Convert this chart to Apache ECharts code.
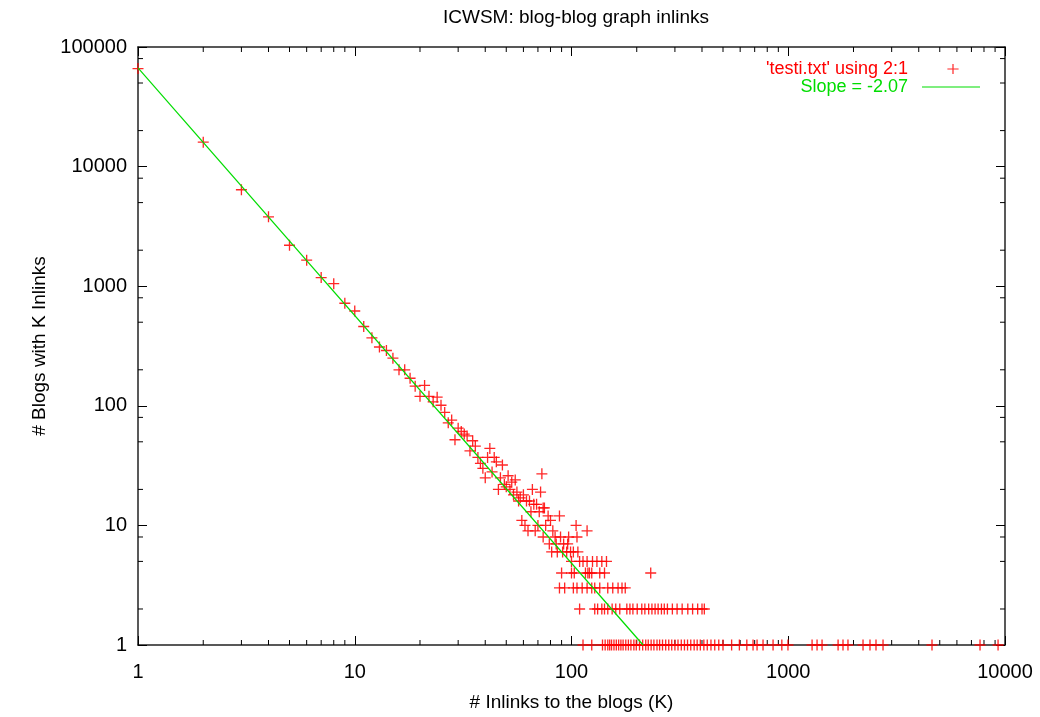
<!DOCTYPE html>
<html>
<head>
<meta charset="utf-8">
<title>ICWSM: blog-blog graph inlinks</title>
<script src="https://cdn.jsdelivr.net/npm/echarts@6/dist/echarts.min.js"></script>
<style>
  html, body { margin: 0; padding: 0; background: #fff; }
  #chart { width: 1040px; height: 717px; }
</style>
</head>
<body>
<div id="chart"></div>
<script>
// axis labels (log decades)
var xTickLabels = ['1', '10', '100', '1000', '10000'];
var yTickLabels = ['1', '10', '100', '1000', '10000', '100000'];
// gnuplot style minor tics
var xMinorTicks = [2,3,4,5,6,7,8,9, 20,30,40,50,60,70,80,90, 200,300,400,500,600,700,800,900, 2000,3000,4000,5000,6000,7000,8000,9000];
var yMinorTicks = [2,5,8, 20,50,80, 200,500,800, 2000,5000,8000, 20000,50000,80000];

// head of the distribution: K inlinks -> # blogs
var headInlinks = [1,2,3,4,5,6,7,8,9,10,11,12,13,14,15,16,17,18,19,20,21,22,23,24,25,26,27,28,29,30,
  31,32,33,34,35,36,37,38,39,40,41,42,43,44,45,46,47,48,49,50,51,52,53,54,55,56,57,58,59,60,
  61,62,64,65,66,67,69,70,71,72,73,74,75,76,78,80,88,105];
var headBlogs = [66000,16000,6400,3800,2200,1650,1180,1050,720,620,460,370,310,290,250,200,200,170,146,120,148,120,108,118,101,88,72,76,52,65,
  61,58,56,42,51,46,37,33,30,25,37,44,28,37,34,20,25,32,22,21,26,20,23,18,24,19,16,17,11,18,
  10,16,16,13,20,15,15,10,13,19,27,14,14,10,12,11,12,10];

// tail: K values for blogs counts 1..9
var nine = [63, 68, 82, 118];
var eight = [74, 84, 89, 97, 106];
var seven = [79, 85, 92, 96];
var six = [81, 86, 91, 95, 99, 102, 107];
var five = [100, 109, 113, 118, 125, 131, 138, 145];
var four = [90, 100, 103, 116, 119, 121, 124, 135, 142, 232];
var three = [88, 93, 102, 106, 112, 118, 124, 128, 135, 147, 155, 164, 171, 177];
var two = [109, 128, 132, 138, 142, 147, 154, 160, 167, 180, 186, 192, 201, 211, 218, 227, 235, 243,
  251, 260, 268, 277, 292, 307, 324, 344, 362, 382, 400, 410];
var one = [113, 124, 139, 143, 147, 150, 153, 157, 161, 165, 169, 173, 178, 183, 188, 194, 199, 206,
  213, 220, 226, 233, 240, 248, 255, 263, 272, 281, 290, 300, 310, 321, 332, 343, 355, 368, 380, 393,
  408, 423, 440, 458, 478, 500, 548, 595, 644, 688, 718, 765, 851, 934, 997, 1288, 1358, 1432, 1698,
  1789, 1886, 2213, 2383, 2540, 2737, 4605, 7670, 9290];

// fitted power law, slope -2.07
var fitInlinks = [1, 214];
var fitBlogs = [67000, 1];

var FONT = 'Liberation Sans';
var RED = '#ff0000';
var GREEN = '#00dd00';
var PLUS = 'path://M4.4,0H5.6V4.4H10V5.6H5.6V10H4.4V5.6H0V4.4H4.4Z';
var PLUS_LEGEND = 'path://M0,0M58,10M25.4,4.4H30.4V0H31.6V4.4H36.6V5.6H31.6V10H30.4V5.6H25.4Z';
var LINE_LEGEND = 'path://M0,0M58,10M0,4.4H58V5.6H0Z';

var points = [];
headInlinks.forEach(function (k, i) { points.push([k, headBlogs[i]]); });
[one, two, three, four, five, six, seven, eight, nine].forEach(function (row, i) {
  row.forEach(function (k) { points.push([k, i + 1]); });
});

function xLabel(v) { return xTickLabels[Math.round(Math.log10(v))]; }
function yLabel(v) { return yTickLabels[Math.round(Math.log10(v))]; }

function xMinor(params, api) {
  var v = api.value(0);
  var b = api.coord([v, 1]), t = api.coord([v, 100000]);
  return { type: 'group', children: [
    { type: 'line', shape: { x1: b[0], y1: b[1], x2: b[0], y2: b[1] - 5 }, style: { stroke: '#000', lineWidth: 1 } },
    { type: 'line', shape: { x1: t[0], y1: t[1], x2: t[0], y2: t[1] + 5 }, style: { stroke: '#000', lineWidth: 1 } }
  ] };
}
function yMinor(params, api) {
  var v = api.value(1);
  var l = api.coord([1, v]), r = api.coord([10000, v]);
  return { type: 'group', children: [
    { type: 'line', shape: { x1: l[0], y1: l[1], x2: l[0] + 5, y2: l[1] }, style: { stroke: '#000', lineWidth: 1 } },
    { type: 'line', shape: { x1: r[0], y1: r[1], x2: r[0] - 5, y2: r[1] }, style: { stroke: '#000', lineWidth: 1 } }
  ] };
}

function logAxis(min, max, split, pos, labels, fmt) {
  return {
    type: 'log', logBase: 10, min: min, max: max, splitNumber: split, position: pos,
    axisLine: { show: true, lineStyle: { color: '#222', width: 1.5 } },
    axisTick: { show: true, inside: true, length: 9, lineStyle: { color: '#000', width: 1 } },
    axisLabel: { show: labels, formatter: fmt, color: '#000', fontFamily: FONT, fontSize: 20 },
    splitLine: { show: false }
  };
}

function legendRow(top, name, icon, color) {
  return {
    orient: 'vertical', right: 55, top: top, align: 'right',
    itemWidth: 58, itemHeight: 10,
    textStyle: { fontFamily: FONT, fontSize: 18, lineHeight: 14, padding: [0, 9, 0, 0] },
    data: [{ name: name, icon: icon, itemStyle: { color: color, borderWidth: 0 }, textStyle: { color: color } }]
  };
}

var xMain = logAxis(1, 10000, 4, 'bottom', true, xLabel);
xMain.axisLabel.margin = 17;
xMain.name = '# Inlinks to the blogs (K)';
xMain.nameLocation = 'middle';
xMain.nameGap = 48;
xMain.nameTextStyle = { color: '#000', fontFamily: FONT, fontSize: 19 };

var yMain = logAxis(1, 100000, 5, 'left', true, yLabel);
yMain.axisLabel.margin = 11;
yMain.name = '# Blogs with K Inlinks';
yMain.nameLocation = 'middle';
yMain.nameGap = 88;
yMain.nameTextStyle = { color: '#000', fontFamily: FONT, fontSize: 19 };

var chart = echarts.init(document.getElementById('chart'), null, { renderer: 'canvas' });
chart.setOption({
  backgroundColor: '#fff',
  animation: false,
  graphic: [{
    type: 'text', x: 576, y: 8,
    style: { text: 'ICWSM: blog-blog graph inlinks', fill: '#000', font: '19px "Liberation Sans"', textAlign: 'center' }
  }],
  grid: { left: 138, right: 35, top: 47, bottom: 69 },
  legend: [
    legendRow(55, "'testi.txt' using 2:1", PLUS_LEGEND, RED),
    legendRow(73, 'Slope = -2.07', LINE_LEGEND, GREEN)
  ],
  xAxis: [xMain, logAxis(1, 10000, 4, 'top', false, xLabel)],
  yAxis: [yMain, logAxis(1, 100000, 5, 'right', false, yLabel)],
  series: [
    {
      name: "'testi.txt' using 2:1", type: 'scatter',
      symbol: PLUS, symbolSize: 11,
      itemStyle: { color: RED, opacity: 0.85 },
      data: points
    },
    {
      name: 'Slope = -2.07', type: 'line', symbol: 'none',
      lineStyle: { color: GREEN, width: 1.2 }, itemStyle: { color: GREEN },
      data: fitInlinks.map(function (k, i) { return [k, fitBlogs[i]]; })
    },
    { type: 'custom', silent: true, clip: false, renderItem: xMinor, data: xMinorTicks.map(function (v) { return [v, 1]; }) },
    { type: 'custom', silent: true, clip: false, renderItem: yMinor, data: yMinorTicks.map(function (v) { return [1, v]; }) }
  ]
});
</script>
</body>
</html>
